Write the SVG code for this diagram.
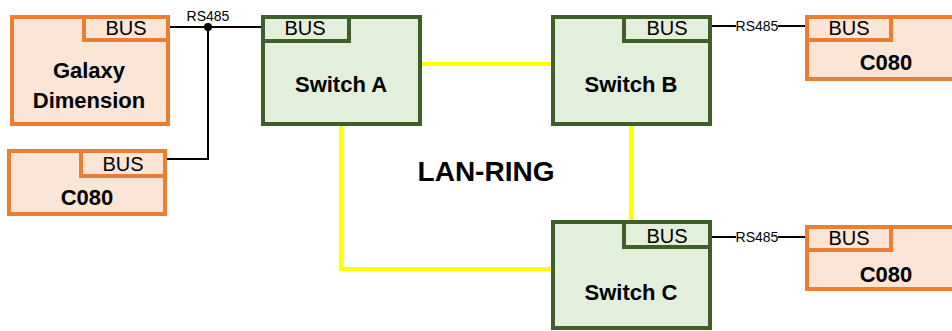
<svg xmlns="http://www.w3.org/2000/svg" width="952" height="331" viewBox="0 0 952 331">
<style>
.ob{fill:#FBE5D6;stroke:#ED7D31;stroke-width:4}
.gb{fill:#E2EFDA;stroke:#3F5F2A;stroke-width:4}
.bus{font-family:"Liberation Sans",Arial,sans-serif;font-size:20px;fill:#000;text-anchor:middle}
.lbl{font-family:"Liberation Sans",Arial,sans-serif;font-size:22px;font-weight:bold;fill:#000;text-anchor:middle}
.rs{font-family:"Liberation Sans",Arial,sans-serif;font-size:14px;fill:#000;text-anchor:middle}
.w{fill:none;stroke:#000;stroke-width:2}
.y{fill:none;stroke:#FFFF00;stroke-width:4}
</style>
<rect width="952" height="331" fill="#fff"/>
<g id="connectors">
<path class="y" d="M422,64H551"/>
<path class="y" d="M631,126V220"/>
<path class="y" d="M341,126V269H551"/>
<path class="w" d="M170,27H262"/>
<path class="w" d="M208,27V159H167"/>
<circle cx="208" cy="27" r="4" fill="#000"/>
<text class="rs" x="208" y="21">RS485</text>
<path class="w" d="M712,26H736M778,26H805"/>
<text class="rs" x="757" y="31">RS485</text>
<path class="w" d="M712,237H736M778,237H805"/>
<text class="rs" x="757" y="242">RS485</text>
</g>
<g id="galaxy">
<rect class="ob" x="12" y="17" width="156" height="107"/>
<rect class="ob" x="84" y="17" width="84" height="23"/>
<text class="bus" x="126" y="35">BUS</text>
<text class="lbl" x="89" y="78">Galaxy</text>
<text class="lbl" x="89" y="108">Dimension</text>
</g>
<g id="c080-left">
<rect class="ob" x="9" y="151" width="156" height="63"/>
<rect class="ob" x="81" y="151" width="84" height="25"/>
<text class="bus" x="123" y="171">BUS</text>
<text class="lbl" x="87" y="205">C080</text>
</g>
<g id="switch-a">
<rect class="gb" x="263" y="17" width="157" height="107"/>
<rect class="gb" x="263" y="17" width="86" height="24"/>
<text class="bus" x="305" y="35">BUS</text>
<text class="lbl" x="341" y="92">Switch A</text>
</g>
<g id="switch-b">
<rect class="gb" x="553" y="17" width="157" height="107"/>
<rect class="gb" x="624" y="17" width="86" height="24"/>
<text class="bus" x="667" y="35">BUS</text>
<text class="lbl" x="631" y="92">Switch B</text>
</g>
<g id="switch-c">
<rect class="gb" x="553" y="222" width="157" height="106"/>
<rect class="gb" x="624" y="222" width="86" height="25"/>
<text class="bus" x="667" y="243">BUS</text>
<text class="lbl" x="631" y="300">Switch C</text>
</g>
<g id="c080-top">
<rect class="ob" x="807" y="17" width="160" height="62"/>
<rect class="ob" x="807" y="17" width="84" height="23"/>
<text class="bus" x="849" y="35">BUS</text>
<text class="lbl" x="886" y="70">C080</text>
</g>
<g id="c080-bottom">
<rect class="ob" x="807" y="227" width="160" height="62"/>
<rect class="ob" x="807" y="227" width="84" height="23"/>
<text class="bus" x="849" y="245">BUS</text>
<text class="lbl" x="886" y="282">C080</text>
</g>
<g id="lan-ring">
<text class="lbl" x="486" y="181" style="font-size:28px">LAN-RING</text>
</g>
</svg>
